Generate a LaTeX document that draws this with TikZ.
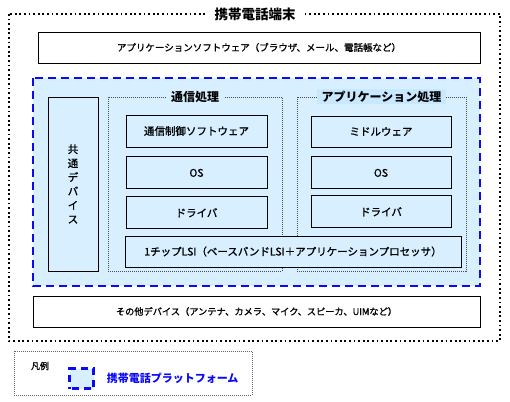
\documentclass[tikz,border=0pt]{standalone}
\usepackage{fontspec}
\setmainfont{Noto Sans CJK JP}[FakeBold=1.2]
\newfontfamily\titlefont{Noto Sans CJK JP}
\usetikzlibrary{positioning}
\definecolor{platblue}{RGB}{10,10,245}
\definecolor{platfill}{RGB}{216,239,255}
\definecolor{apptitle}{RGB}{200,232,255}

\begin{document}
\begin{tikzpicture}[
  x=1pt, y=-1pt,
  every node/.style={inner sep=0pt, font=\fontsize{10.5}{12}\selectfont},
  box/.style={draw, line width=0.9pt, fill=platfill, minimum width=141pt, minimum height=32pt},
  widebox/.style={draw, line width=0.9pt, fill=white, minimum height=31pt},
  group/.style={draw=black!70, line width=0.7pt, dash pattern=on 1pt off 1pt},
  grouptitle/.style={fill=platfill, inner xsep=5pt, inner ysep=2pt, font=\titlefont\fontsize{12}{14}\selectfont\bfseries},
  platform/.style={draw=platblue, fill=platfill, line width=2.4pt, dash pattern=on 8pt off 5pt}
]
\useasboundingbox (0,0) rectangle (510,401);

% Terminal (outer dotted frame)
\draw[line width=1.8pt, dash pattern=on 1.8pt off 2.8pt] (9,14) rectangle (500,341);
\node[fill=white, inner xsep=9pt, inner ysep=2pt, font=\titlefont\fontsize{13.5}{15}\selectfont\bfseries] (term) at (255,14) {携帯電話端末};

% Application software
\node[widebox, minimum width=442pt, font=\fontsize{9.5}{11}\selectfont] (appsw) at (259,47.5) {アプリケーションソフトウェア（ブラウザ、メール、電話帳など）};

% Platform (blue dashed)
\draw[platform] (33,78) rectangle (480,286);

% Common devices
\node[box, minimum width=50pt, minimum height=174pt, align=center, font=\fontsize{10.5}{14}\selectfont] (dev) at (73,184) {共\\通\\デ\\バ\\イ\\ス};

% Communication processing
\node[group, minimum width=174pt, minimum height=174pt] (comm) at (195,184) {};
\node[grouptitle] (commtitle) at (comm.north) {通信処理};
\node[box] (ctrl) at (196.5,131) {通信制御ソフトウェア};
\node[box, below=9pt of ctrl] (os1) {OS};
\node[box, below=7pt of os1] (drv1) {ドライバ};

% Application processing
\node[group, minimum width=169pt, minimum height=174pt] (app) at (381.5,184) {};
\node[grouptitle, fill=apptitle] (apptitle) at (app.north) {アプリケーション処理};
\node[box, minimum width=140pt, minimum height=31pt] (mid) at (381,131.5) {ミドルウェア};
\node[box, minimum width=140pt, below=9pt of mid] (os2) {OS};
\node[box, minimum width=140pt, below=6pt of os2] (drv2) {ドライバ};

% One-chip LSI
\node[box, minimum width=336pt, minimum height=31pt, font=\fontsize{10.5}{12}\selectfont] (lsi) at (293,251.5) {1チップLSI（ベースバンドLSI＋アプリケーションプロセッサ）};

% Other devices
\node[widebox, minimum width=447pt, font=\fontsize{9.2}{11}\selectfont] (other) at (256.5,311.5) {その他デバイス（アンテナ、カメラ、マイク、スピーカ、UIMなど）};

% Legend
\draw[black!60, line width=0.6pt, dash pattern=on 1pt off 1pt] (14,351) rectangle (252,395);
\node[font=\fontsize{9}{10}\selectfont] (legend) at (40,366) {凡例};
\node[platform, line width=2.2pt, dash pattern=on 7pt off 5pt, dash phase=-2pt, minimum width=24pt, minimum height=20pt] (legbox) at (81.5,378.5) {};
\node[right=12pt of legbox, text=platblue, font=\titlefont\fontsize{11}{12}\selectfont\bfseries] (legtext) {携帯電話プラットフォーム};

\end{tikzpicture}
\end{document}
